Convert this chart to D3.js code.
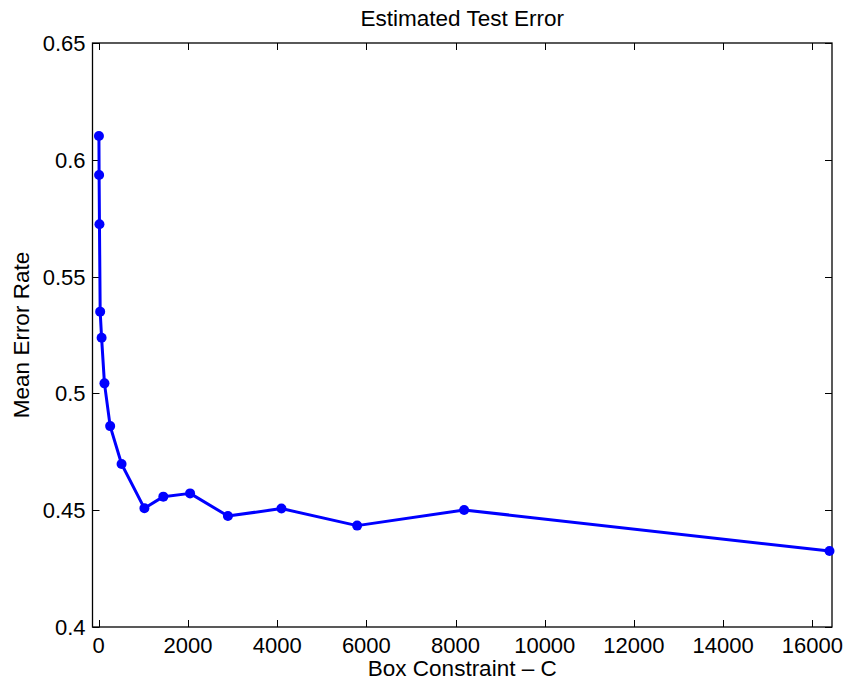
<!DOCTYPE html>
<html><head><meta charset="utf-8">
<script src="https://cdn.jsdelivr.net/npm/d3@7"></script>
<style>body{margin:0;background:#fff}svg{display:block}text{font-family:"Liberation Sans",Arial,Helvetica,sans-serif;fill:#000}</style>
</head><body><svg id="c" width="847" height="682"></svg>
<script>
const boxC = [4, 8, 16, 32, 64, 128, 256, 512, 1024, 1448, 2048, 2896, 4096, 5793, 8192, 16384];
const errRate = [0.6102, 0.5935, 0.5724, 0.535, 0.5238, 0.5043, 0.486, 0.4698, 0.4508, 0.4558, 0.4572, 0.4475, 0.4507, 0.4434, 0.4501, 0.4325];
const xTicks = [0, 2000, 4000, 6000, 8000, 10000, 12000, 14000, 16000];
const yTicks = [0.4, 0.45, 0.5, 0.55, 0.6, 0.65];
const yTickLabels = ["0.4", "0.45", "0.5", "0.55", "0.6", "0.65"];
const titleText = "Estimated Test Error";
const xLabel = "Box Constraint \u2013 C";
const yLabel = "Mean Error Rate";

const L = 92.5, R = 832, T = 43, B = 627;
const svg = d3.select("#c");
svg.append("rect").attr("width",847).attr("height",682).attr("fill","#fff");
const x = d3.scaleLinear().domain([-140, 16440]).range([L, R]);
const y = d3.scaleLinear().domain([0.4, 0.65]).range([B, T]);
const tl = 7, fs = 22, lfs = 22.5;

// frame
svg.append("rect").attr("x",L).attr("y",T).attr("width",R-L).attr("height",B-T)
  .attr("fill","none").attr("stroke","#000").attr("stroke-width",1.3);

// ticks
const g = svg.append("g").attr("stroke","#000").attr("stroke-width",1);
xTicks.forEach(v=>{
  const px = Math.round(x(v))+0.5;
  g.append("line").attr("x1",px).attr("x2",px).attr("y1",B).attr("y2",B-tl);
  g.append("line").attr("x1",px).attr("x2",px).attr("y1",T).attr("y2",T+tl);
});
yTicks.forEach(v=>{
  const py = Math.round(y(v))+0.5;
  g.append("line").attr("x1",L).attr("x2",L+tl).attr("y1",py).attr("y2",py);
  g.append("line").attr("x1",R).attr("x2",R-tl).attr("y1",py).attr("y2",py);
});

// tick labels
svg.append("g").selectAll("text").data(xTicks).join("text")
  .attr("x",d=>x(d)).attr("y",653).attr("text-anchor","middle").attr("font-size",fs).text(d=>d);
svg.append("g").selectAll("text").data(yTicks).join("text")
  .attr("x",85.5).attr("y",d=>y(d)+7.9).attr("text-anchor","end").attr("font-size",fs)
  .text((d,i)=>yTickLabels[i]);

// labels
svg.append("text").attr("x",(L+R)/2).attr("y",25.5).attr("text-anchor","middle").attr("font-size",lfs).text(titleText);
svg.append("text").attr("x",(L+R)/2).attr("y",676).attr("text-anchor","middle").attr("font-size",lfs).text(xLabel);
svg.append("text").attr("transform",`translate(29,${(T+B)/2}) rotate(-90)`).attr("text-anchor","middle").attr("font-size",lfs).text(yLabel);

// data
const pts = boxC.map((c,i)=>[c, errRate[i]]);
svg.append("path").datum(pts)
  .attr("d", d3.line().x(d=>x(d[0])).y(d=>y(d[1])))
  .attr("fill","none").attr("stroke","#0000ff").attr("stroke-width",3).attr("stroke-linejoin","round");
svg.append("g").selectAll("circle").data(pts).join("circle")
  .attr("cx",d=>x(d[0])).attr("cy",d=>y(d[1])).attr("r",5).attr("fill","#0000ff");
</script></body></html>
